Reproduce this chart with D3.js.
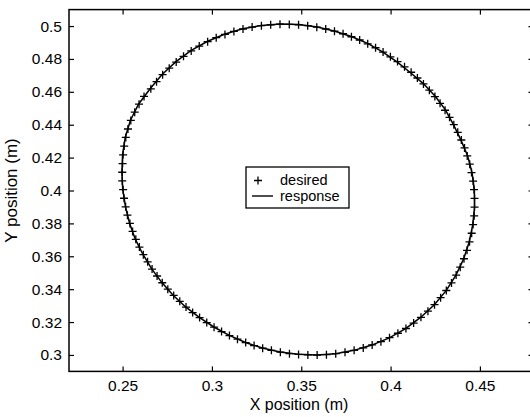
<!DOCTYPE html>
<html>
<head>
<meta charset="utf-8">
<script src="https://cdn.jsdelivr.net/npm/d3@7"></script>
<style>
  html, body { margin: 0; padding: 0; background: #fff; }
  svg { display: block; }
  text { font-family: "Liberation Sans", Arial, sans-serif; fill: #000; }
</style>
</head>
<body>
<svg id="chart" width="530" height="417"></svg>
<script>
// Desired circular trajectory (x, y in metres)
const desiredX = [
  0.4467, 0.4462, 0.4453, 0.4443, 0.4429, 0.4414, 0.4396, 0.4376, 0.4354, 0.4330,
  0.4305, 0.4277, 0.4248, 0.4217, 0.4184, 0.4150, 0.4115, 0.4078, 0.4039, 0.3999,
  0.3958, 0.3916, 0.3872, 0.3827, 0.3781, 0.3734, 0.3686, 0.3637, 0.3587, 0.3536,
  0.3485, 0.3433, 0.3381, 0.3329, 0.3277, 0.3225, 0.3174, 0.3123, 0.3073, 0.3024,
  0.2976, 0.2929, 0.2884, 0.2841, 0.2800, 0.2761, 0.2724, 0.2690, 0.2658, 0.2620,
  0.2592, 0.2568, 0.2546, 0.2530, 0.2518, 0.2509, 0.2503, 0.2500, 0.2498, 0.2498,
  0.2503, 0.2508, 0.2517, 0.2527, 0.2541, 0.2556, 0.2574, 0.2594, 0.2616, 0.2640,
  0.2665, 0.2693, 0.2722, 0.2753, 0.2786, 0.2820, 0.2855, 0.2892, 0.2931, 0.2971,
  0.3012, 0.3054, 0.3098, 0.3143, 0.3189, 0.3236, 0.3284, 0.3333, 0.3383, 0.3434,
  0.3485, 0.3537, 0.3589, 0.3641, 0.3693, 0.3745, 0.3796, 0.3847, 0.3897, 0.3946,
  0.3994, 0.4041, 0.4086, 0.4129, 0.4170, 0.4209, 0.4246, 0.4280, 0.4312, 0.4341,
  0.4367, 0.4390, 0.4411, 0.4428, 0.4442, 0.4454, 0.4462, 0.4468, 0.4470, 0.4470
];
const desiredY = [
  0.4005, 0.4057, 0.4109, 0.4160, 0.4210, 0.4259, 0.4307, 0.4354, 0.4400, 0.4445,
  0.4488, 0.4530, 0.4571, 0.4610, 0.4648, 0.4684, 0.4719, 0.4752, 0.4784, 0.4813,
  0.4842, 0.4868, 0.4892, 0.4915, 0.4935, 0.4953, 0.4969, 0.4982, 0.4993, 0.5002,
  0.5008, 0.5010, 0.5011, 0.5008, 0.5002, 0.4994, 0.4982, 0.4967, 0.4949, 0.4929,
  0.4905, 0.4878, 0.4849, 0.4816, 0.4781, 0.4744, 0.4704, 0.4662, 0.4618, 0.4572,
  0.4525, 0.4476, 0.4426, 0.4374, 0.4323, 0.4270, 0.4217, 0.4164, 0.4111, 0.4058,
  0.4005, 0.3953, 0.3901, 0.3850, 0.3800, 0.3751, 0.3703, 0.3656, 0.3610, 0.3566,
  0.3522, 0.3480, 0.3439, 0.3400, 0.3362, 0.3326, 0.3291, 0.3258, 0.3227, 0.3197,
  0.3169, 0.3142, 0.3118, 0.3096, 0.3075, 0.3057, 0.3041, 0.3028, 0.3017, 0.3008,
  0.3003, 0.3000, 0.2999, 0.3002, 0.3008, 0.3016, 0.3028, 0.3043, 0.3061, 0.3081,
  0.3105, 0.3132, 0.3161, 0.3194, 0.3229, 0.3266, 0.3306, 0.3348, 0.3392, 0.3438,
  0.3486, 0.3534, 0.3585, 0.3636, 0.3688, 0.3740, 0.3793, 0.3846, 0.3899, 0.3952
];

// Measured response of the end effector
const responseX = [
  0.4469, 0.4456, 0.4431, 0.4394, 0.4352, 0.4307, 0.4251, 0.4186, 0.4112, 0.4036,
  0.3955, 0.3874, 0.3784, 0.3689, 0.3590, 0.3487, 0.3384, 0.3276, 0.3172, 0.3070,
  0.2973, 0.2882, 0.2797, 0.2721, 0.2655, 0.2590, 0.2544, 0.2515, 0.2500, 0.2496,
  0.2501, 0.2516, 0.2539, 0.2571, 0.2614, 0.2663, 0.2720, 0.2783, 0.2853, 0.2929,
  0.3011, 0.3097, 0.3188, 0.3282, 0.3381, 0.3483, 0.3588, 0.3692, 0.3795, 0.3895,
  0.3993, 0.4084, 0.4168, 0.4245, 0.4311, 0.4366, 0.4409, 0.4440, 0.4460, 0.4470,
  0.4469
];
const responseY = [
  0.4004, 0.4109, 0.4211, 0.4306, 0.4401, 0.4490, 0.4572, 0.4647, 0.4716, 0.4782,
  0.4843, 0.4893, 0.4935, 0.4968, 0.4994, 0.5009, 0.5012, 0.5003, 0.4983, 0.4950,
  0.4906, 0.4850, 0.4782, 0.4705, 0.4620, 0.4526, 0.4427, 0.4324, 0.4218, 0.4112,
  0.4006, 0.3902, 0.3801, 0.3704, 0.3611, 0.3523, 0.3440, 0.3363, 0.3292, 0.3228,
  0.3170, 0.3119, 0.3076, 0.3042, 0.3018, 0.3004, 0.3000, 0.3008, 0.3028, 0.3060,
  0.3104, 0.3160, 0.3228, 0.3305, 0.3391, 0.3485, 0.3584, 0.3687, 0.3792, 0.3898,
  0.4004
];

const xTicks = [0.25, 0.3, 0.35, 0.4, 0.45];
const yTicks = [0.3, 0.32, 0.34, 0.36, 0.38, 0.4, 0.42, 0.44, 0.46, 0.48, 0.5];
const xDomain = [0.22, 0.48];
const yDomain = [0.29, 0.51];
const xTitle = "X position (m)";
const yTitle = "Y position (m)";
const legendLabels = ["desired", "response"];

const svg = d3.select("#chart");
const mLeft = 69, mTop = 9.6, plotW = 464.5, plotH = 361.8;

const x = d3.scaleLinear().domain(xDomain).range([mLeft, mLeft + plotW]);
const y = d3.scaleLinear().domain(yDomain).range([mTop + plotH, mTop]);

const fmt = d => String(+d.toFixed(2));

// Axes box with inward ticks on all four sides
svg.append("rect")
  .attr("x", mLeft).attr("y", mTop).attr("width", plotW).attr("height", plotH)
  .attr("fill", "none").attr("stroke", "#000").attr("stroke-width", 1.5);

const tickLen = 5;
const axisStyle = sel => {
  sel.select(".domain").remove();
  sel.selectAll(".tick line").attr("stroke", "#000").attr("stroke-width", 1.2);
  sel.selectAll(".tick text").style("font-size", "15.5px").attr("fill", "#000");
};

svg.append("g").attr("transform", `translate(0,${mTop + plotH})`)
  .call(d3.axisBottom(x).tickValues(xTicks).tickFormat(fmt).tickSizeInner(-tickLen).tickSizeOuter(0).tickPadding(9))
  .call(axisStyle);
svg.append("g").attr("transform", `translate(0,${mTop})`)
  .call(d3.axisTop(x).tickValues(xTicks).tickFormat("").tickSizeInner(-tickLen).tickSizeOuter(0))
  .call(axisStyle);
svg.append("g").attr("transform", `translate(${mLeft},0)`)
  .call(d3.axisLeft(y).tickValues(yTicks).tickFormat(fmt).tickSizeInner(-tickLen).tickSizeOuter(0).tickPadding(7))
  .call(axisStyle);
svg.append("g").attr("transform", `translate(${mLeft + plotW},0)`)
  .call(d3.axisRight(y).tickValues(yTicks).tickFormat("").tickSizeInner(-tickLen).tickSizeOuter(0))
  .call(axisStyle);

// Axis titles
svg.append("text")
  .attr("x", 299).attr("y", 410)
  .attr("text-anchor", "middle")
  .style("font-size", "16px")
  .text(xTitle);
svg.append("text")
  .attr("transform", `translate(17,${y(0.4)}) rotate(-90)`)
  .attr("text-anchor", "middle")
  .style("font-size", "17px")
  .text(yTitle);

// Response curve
const resp = responseX.map((v, i) => [v, responseY[i]]);
svg.append("path")
  .datum(resp)
  .attr("fill", "none")
  .attr("stroke", "#000")
  .attr("stroke-width", 1.5)
  .attr("d", d3.line().x(d => x(d[0])).y(d => y(d[1])));

// Desired points as plus markers
const des = desiredX.map((v, i) => [v, desiredY[i]]);
const ms = 4;
svg.append("g").selectAll("path")
  .data(des)
  .join("path")
  .attr("transform", d => `translate(${x(d[0])},${y(d[1])})`)
  .attr("d", `M${-ms},0H${ms}M0,${-ms}V${ms}`)
  .attr("stroke", "#000")
  .attr("stroke-width", 1.3)
  .attr("fill", "none");

// Legend
const lg = svg.append("g");
lg.append("rect")
  .attr("x", 246).attr("y", 167).attr("width", 103).attr("height", 41)
  .attr("fill", "#fff").attr("stroke", "#000").attr("stroke-width", 1.3);
lg.append("path")
  .attr("d", `M${258 - ms},180.5H${258 + ms}M258,${180.5 - ms}V${180.5 + ms}`)
  .attr("stroke", "#000").attr("stroke-width", 1.3);
lg.append("line")
  .attr("x1", 252).attr("x2", 273).attr("y1", 196).attr("y2", 196)
  .attr("stroke", "#000").attr("stroke-width", 1.4);
lg.selectAll("text")
  .data(legendLabels)
  .join("text")
  .attr("x", 280)
  .attr("y", (d, i) => 185 + i * 15.5)
  .style("font-size", "14.5px")
  .text(d => d);
</script>
</body>
</html>
